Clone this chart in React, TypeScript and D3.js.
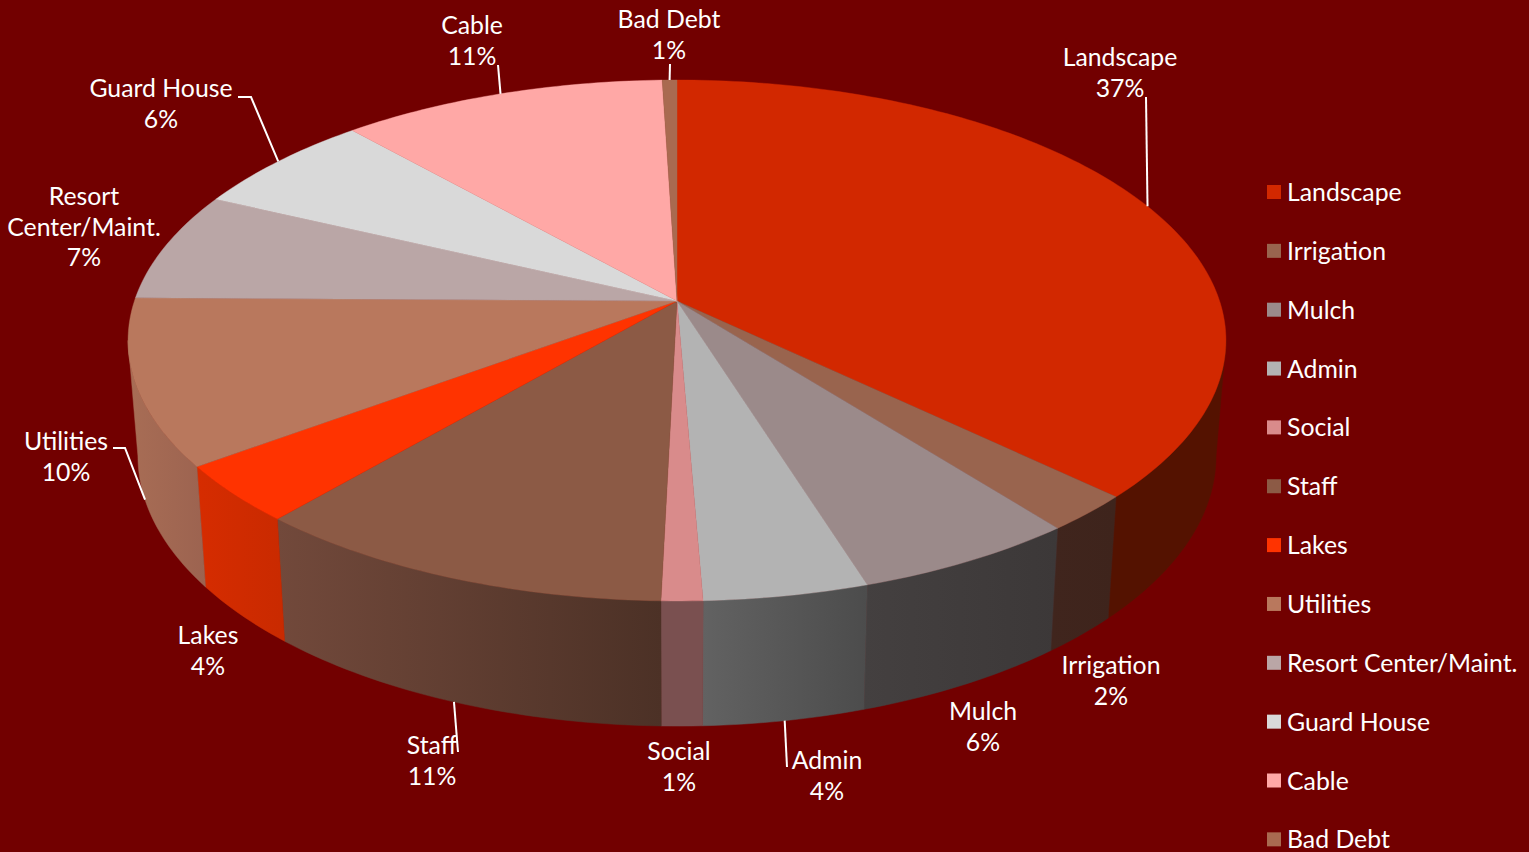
import React from "react";
import * as d3 from "d3";

// Budget shares, in percent, clockwise from twelve o'clock
const categories = ["Landscape", "Irrigation", "Mulch", "Admin", "Social", "Staff", "Lakes", "Utilities", "Resort Center/Maint.", "Guard House", "Cable", "Bad Debt"];
const shares = [37.1, 2.3, 5.75, 4.2, 1.05, 10.9, 3.6, 10.3, 6.8, 6.4, 11.1, 0.5];

const faceColors = ["#d22800", "#99644e", "#9b8a8a", "#b3b3b3", "#d98b8b", "#8c5a45", "#ff3300", "#b9785d", "#baa6a6", "#d9d9d9", "#ffa8a6", "#a96a50"];
const wallLeft = ["#541200", "#40251d", "#444040", "#626262", "#7a5050", "#72493b", "#d62c00", "#a86d55", "#7a6a6a", "#888888", "#a07070", "#6a4030"];
const wallRight = ["#541200", "#3e241c", "#3c3838", "#4c4c4c", "#7a5050", "#4c3126", "#c92a00", "#9c6350", "#7a6a6a", "#888888", "#a07070", "#6a4030"];

// Label text lines and anchor placement, one entry per category
const labelLines: string[][] = [["Landscape"], ["Irrigation"], ["Mulch"], ["Admin"], ["Social"], ["Staff"], ["Lakes"], ["Utilities"], ["Resort", "Center/Maint."], ["Guard House"], ["Cable"], ["Bad Debt"]];
const labelCenters: [number, number][] = [[1120, 57], [1111, 665], [983, 711], [827, 760], [679, 751], [432, 745], [208, 635], [66, 441], [84, 196], [161, 88], [472, 25], [669, 19]];

// Leader lines: the outer elbow points, which rim they reach, by category index
const leaders: { index: number; from: [number, number][]; rim: "top" | "bottom" }[] = [
  { index: 0, from: [[1146, 97]], rim: "top" },
  { index: 11, from: [[670, 64]], rim: "top" },
  { index: 10, from: [[498, 65]], rim: "top" },
  { index: 9, from: [[238, 97], [251, 97]], rim: "top" },
  { index: 7, from: [[113, 448], [125, 448]], rim: "bottom" },
  { index: 5, from: [[458, 752]], rim: "bottom" },
  { index: 3, from: [[787, 767]], rim: "bottom" },
];

const WIDTH = 1529;
const HEIGHT = 852;
const BG = "#720000";
const FONT = "Lato, 'Open Sans', sans-serif";
const FONT_SIZE = 24.8;

// Perspective projection of the unit disc onto the screen
const CX = 677;
const CY = 301;
const PERSPECTIVE = 0.1516;
const scaleX = d3.scaleLinear().domain([-1, 1]).range([CX - 542.6, CX + 542.6]);
const scaleY = d3.scaleLinear().domain([-1, 1]).range([CY - 254.5, CY + 254.5]);

type Pt = [number, number];

function topRim(angle: number): Pt {
  const u = Math.sin(angle);
  const v = -Math.cos(angle);
  const d = 1 - PERSPECTIVE * v;
  return [scaleX(u / d), scaleY(v / d)];
}

// The lower edge of the disc sits further down and a little narrower
function bottomRim(angle: number): Pt {
  const [x, y] = topRim(angle);
  return [CX + 0.982 * (x - CX), 415 + 1.037 * (y - CY)];
}

const arcs = d3.pie<number>().sort(null).value((d) => d)(shares);
const line = d3.line();

const sampleAngles = (a0: number, a1: number): number[] => {
  const n = Math.max(2, Math.ceil(((a1 - a0) * 180) / Math.PI));
  return d3.range(n + 1).map((i) => a0 + ((a1 - a0) * i) / n);
};

// Outer wall is visible between the two silhouette angles of the ellipse
const WALL_START = Math.acos(-PERSPECTIVE);
const WALL_END = 2 * Math.PI - WALL_START;

export default function App() {
  const walls = arcs
    .map((a, i) => {
      const a0 = Math.max(a.startAngle, WALL_START);
      const a1 = Math.min(a.endAngle, WALL_END);
      if (a1 <= a0) return null;
      const angles = sampleAngles(a0, a1);
      const upper = angles.map(topRim);
      const lower = angles.map(bottomRim).reverse();
      const xs = [...upper, ...lower].map((p) => p[0]);
      return { i, d: line([...upper, ...lower] as Pt[]) + "Z", xMin: d3.min(xs)!, xMax: d3.max(xs)! };
    })
    .filter(Boolean) as { i: number; d: string; xMin: number; xMax: number }[];

  return (
    <svg
      width={WIDTH}
      height={HEIGHT}
      viewBox={`0 0 ${WIDTH} ${HEIGHT}`}
      style={{ position: "absolute", left: 0, top: 0, display: "block" }}
      fontFamily={FONT}
    >
      <defs>
        {walls.map((w) => (
          // Wall shading runs from the left edge of each slice to its right edge
          <linearGradient key={w.i} id={`wall-${w.i}`} gradientUnits="userSpaceOnUse" x1={w.xMin} x2={w.xMax} y1={0} y2={0}>
            <stop offset="0" stopColor={wallLeft[w.i]} />
            <stop offset="1" stopColor={wallRight[w.i]} />
          </linearGradient>
        ))}
      </defs>
      <rect width={WIDTH} height={HEIGHT} fill={BG} />

      {walls.map((w) => (
        <path key={w.i} d={w.d} fill={`url(#wall-${w.i})`} stroke={`url(#wall-${w.i})`} strokeWidth={0.5} />
      ))}

      {arcs.map((a, i) => {
        const rim = sampleAngles(a.startAngle, a.endAngle).map(topRim);
        return <path key={i} d={line([[CX, CY], ...rim] as Pt[]) + "Z"} fill={faceColors[i]} stroke={faceColors[i]} strokeWidth={0.4} />;
      })}

      {leaders.map((l) => {
        const a = arcs[l.index];
        const mid = (a.startAngle + a.endAngle) / 2;
        const end = l.rim === "top" ? topRim(mid) : bottomRim(mid);
        return <path key={l.index} d={line([...l.from, end] as Pt[])!} fill="none" stroke="#ffffff" strokeWidth={2} />;
      })}

      {categories.map((c, i) => {
        const [x, y] = labelCenters[i];
        const lines = [...labelLines[i], `${Math.round(shares[i])}%`];
        return (
          <text key={c} x={x} fill="#ffffff" fontSize={FONT_SIZE} textAnchor="middle">
            {lines.map((t, j) => (
              <tspan key={j} x={x} y={y + 9 + j * 30.7}>
                {t}
              </tspan>
            ))}
          </text>
        );
      })}

      {categories.map((c, i) => {
        const y = 192 + i * 58.85;
        return (
          <g key={c}>
            <rect x={1267} y={y - 7} width={14} height={14} fill={faceColors[i]} />
            <text x={1287} y={y + 9} fill="#ffffff" fontSize={FONT_SIZE}>
              {c}
            </text>
          </g>
        );
      })}
    </svg>
  );
}
